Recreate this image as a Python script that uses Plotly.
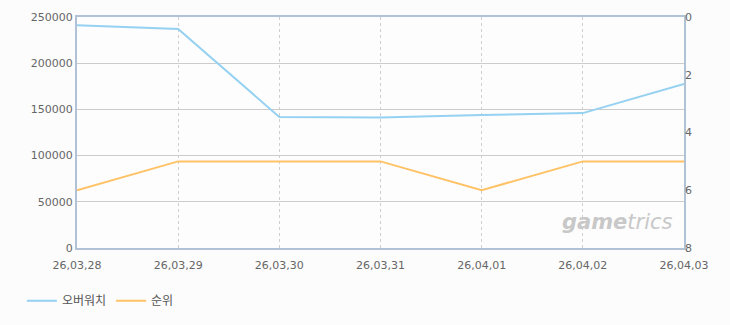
import plotly.graph_objects as go

dates = ["26,03,28", "26,03,29", "26,03,30", "26,03,31", "26,04,01", "26,04,02", "26,04,03"]
overwatch = [241000, 237000, 141800, 141300, 144000, 146000, 177500]
rank = [6, 5, 5, 5, 6, 5, 5]
left_ticks = [0, 50000, 100000, 150000, 200000, 250000]
right_ticks = [0, 2, 4, 6, 8]

font = "DejaVu Sans, Noto Sans CJK KR, sans-serif"
frame = "#b2c2d6"

fig = go.Figure()
fig.add_trace(go.Scatter(x=dates, y=overwatch, name="오버워치", mode="lines",
                         line=dict(color="#95d1f1", width=2)))
fig.add_trace(go.Scatter(x=dates, y=rank, name="순위", mode="lines", yaxis="y2",
                         line=dict(color="#ffc266", width=2)))

fig.update_layout(
    width=730, height=325,
    margin=dict(l=77, r=46, t=17, b=77, autoexpand=False),
    paper_bgcolor="#fcfcfc", plot_bgcolor="#fdfdfd",
    font=dict(family=font, size=11, color="#666666"),
    showlegend=True,
    legend=dict(orientation="h", xref="container", yref="container",
                x=0.03, y=0.075, xanchor="left", yanchor="middle",
                font=dict(size=12, color="#555555"), itemwidth=30,
                bgcolor="rgba(0,0,0,0)"),
    xaxis=dict(type="category", range=[0, 6], showgrid=True, gridcolor="#cfcfcf",
               griddash="3px,3px", gridwidth=1, showline=True, linecolor=frame, linewidth=2,
               mirror=True, ticks="", ticklabelstandoff=6,
               tickfont=dict(size=11, color="#666666"), zeroline=False),
    yaxis=dict(range=[0, 250000], tickvals=left_ticks, tickformat="d", showgrid=True,
               gridcolor="#cccccc", gridwidth=1, showline=True, linecolor=frame,
               linewidth=2, mirror=True, ticks="", zeroline=False,
               tickfont=dict(size=11, color="#666666")),
    yaxis2=dict(overlaying="y", side="right", range=[8, 0], tickvals=right_ticks,
                showgrid=False, showline=False, ticks="", zeroline=False,
                tickfont=dict(size=11, color="#666666")),
)

fig.add_annotation(text="<i><b>game</b>trics</i>", xref="paper", yref="paper",
                   x=0.985, y=0.05, xanchor="right", yanchor="bottom", showarrow=False,
                   font=dict(size=21, color="#c8c8c8", family="DejaVu Sans"))

fig.write_html("out.html")
